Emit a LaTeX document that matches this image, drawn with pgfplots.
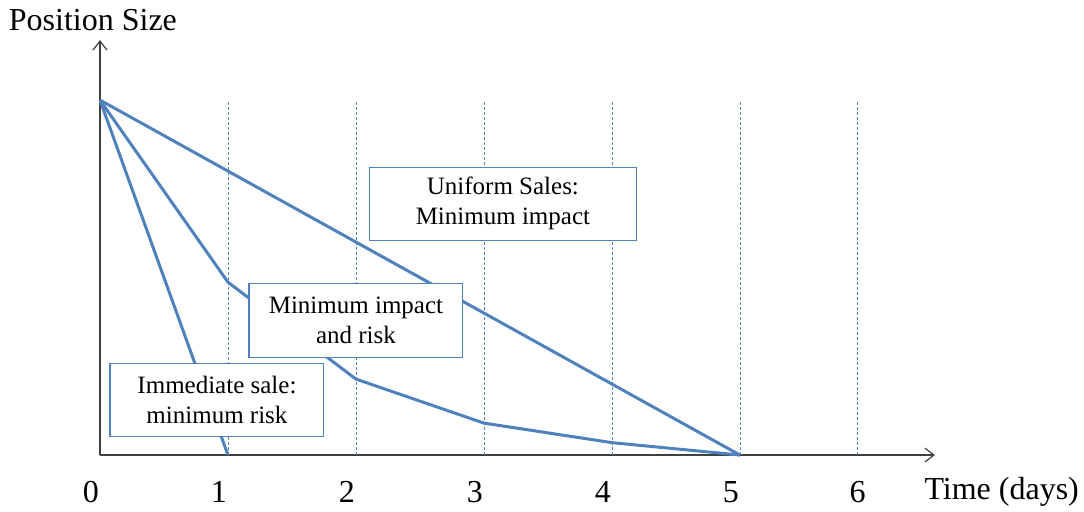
\documentclass[border=0pt]{standalone}
\usepackage{fontspec}
\setmainfont{Liberation Serif}
\usepackage{pgfplots}
\pgfplotsset{compat=1.18}
\usetikzlibrary{arrows.meta}
\definecolor{lineblue}{HTML}{4F81BD}
\definecolor{axisgray}{HTML}{404040}

\begin{document}
\begin{tikzpicture}
\begin{axis}[
  scale only axis, width=835pt, height=415pt,
  xmin=0, xmax=6.523, ymin=0, ymax=1.169,
  axis lines=left,
  axis line style={axisgray, line width=1.2pt, -{Straight Barb[length=9pt,width=14pt]}},
  xtick={0,1,2,3,4,5,5.99},
  xticklabels={0,1,2,3,4,5,6},
  ytick=\empty,
  major tick length=0pt,
  xticklabel style={anchor=center, xshift=-9pt, yshift=-37pt, font=\fontsize{32}{36}\selectfont},
  clip=false,
]
% day markers
\addplot[ycomb, lineblue, line width=0.8pt, dash pattern=on 3pt off 2pt, mark=none]
  coordinates {(1,1) (2,1) (3,1) (4,1) (5,1) (5.92,1)};

% liquidation trajectories
\addplot[lineblue, line width=3pt, mark=none] coordinates {(0,1) (5,0)};
\addplot[lineblue, line width=3pt, mark=none, line join=round]
  coordinates {(0,1) (1,0.487) (2,0.214) (3,0.090) (4,0.035) (5,0)};
\addplot[lineblue, line width=3pt, mark=none] coordinates {(0,1) (1,0)};

% strategy labels
\tikzset{lbl/.style={draw=lineblue, fill=white, line width=1.1pt, align=center,
  inner sep=0pt, font=\fontsize{25}{30}\selectfont}}
\node[lbl, minimum width=267pt, minimum height=73pt] at (axis cs:3.148,0.708)
  {Uniform Sales:\\Minimum impact};
\node[lbl, minimum width=214pt, minimum height=74pt] at (axis cs:2.0,0.380)
  {Minimum impact\\and risk};
\node[lbl, minimum width=214pt, minimum height=73pt] at (axis cs:0.914,0.156)
  {Immediate sale:\\minimum risk};

% axis titles
\node[font=\fontsize{32}{36}\selectfont] at (axis cs:-0.055,1.225) {Position Size};
\node[font=\fontsize{32}{36}\selectfont] at (axis cs:7.045,-0.104) {Time (days)};

% picture extent
\path (axis cs:-0.781,-0.158) rectangle (axis cs:7.688,1.282);
\end{axis}
\end{tikzpicture}
\end{document}
